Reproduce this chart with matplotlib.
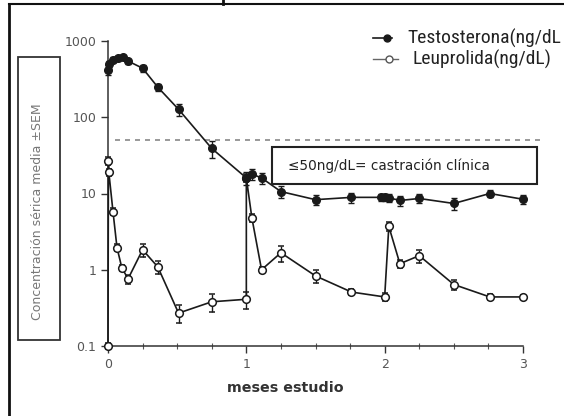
import numpy as np
import matplotlib
matplotlib.use('Agg')
import matplotlib.pyplot as plt
from matplotlib import font_manager
from matplotlib.patches import Rectangle
from matplotlib.lines import Line2D

W, H = 564, 416

# ── Data (months, ng/dL) ──
t_testo = [0, 0.005, 0.036, 0.07, 0.11, 0.145, 0.25, 0.36, 0.51, 0.75,
           1.0, 1.04, 1.11, 1.25, 1.5, 1.76, 1.97, 2.0, 2.03, 2.11, 2.25,
           2.5, 2.76, 3.0]
testo = [420, 500, 570, 590, 620, 545, 440, 248, 127, 39,
         16, 18, 16, 10.6, 8.3, 8.9, 8.9, 8.9, 8.8, 8.1, 8.6,
         7.4, 10.0, 8.4]
testo_sem = [60, 50, 40, 40, 40, 40, 45, 25, 22, 10,
             3, 3, 2.5, 1.8, 1.3, 1.3, 1.0, 1.0, 1.0, 1.3, 1.2,
             1.4, 1.0, 1.2]

t_leup = [0, 0.003, 0.006, 0.036, 0.065, 0.10, 0.145, 0.25, 0.36, 0.51,
          0.75, 1.0, 1.0, 1.04, 1.11, 1.25, 1.5, 1.76, 2.0, 2.03, 2.11,
          2.25, 2.5, 2.76, 3.0]
leup = [0.1, 27, 19, 5.8, 1.95, 1.06, 0.76, 1.83, 1.09, 0.27,
        0.38, 0.41, 16, 4.8, 1.0, 1.67, 0.83, 0.51, 0.44, 3.7, 1.2,
        1.53, 0.64, 0.44, 0.44]
leup_sem = [0.01, 3, 2, 0.6, 0.2, 0.1, 0.1, 0.35, 0.2, 0.07,
            0.1, 0.1, 2, 0.6, 0.1, 0.4, 0.15, 0.05, 0.05, 0.5, 0.15,
            0.3, 0.1, 0.04, 0.03]

THRESHOLD = 50
y_ticks = [0.1, 1, 10, 100, 1000]
y_ticklabels = ["0.1", "1", "10", "100", "1000"]
x_ticks = [0, 1, 2, 3]

# narrow font for the legend if one is installed
installed = {f.name for f in font_manager.fontManager.ttflist}
narrow = next((f for f in ["Liberation Sans Narrow", "DejaVu Sans Condensed",
                           "Roboto Condensed"] if f in installed), None)


def fx(px):
    return px / W


def fy(py):
    return 1 - py / H


fig = plt.figure(figsize=(W / 100, H / 100), dpi=100)
ax = fig.add_axes([fx(108), fy(346), fx(523) - fx(108), fy(41) - fy(346)])

ax.errorbar(t_testo, testo, yerr=testo_sem, fmt='o-', color='#1a1a1a',
            mfc='#1a1a1a', mec='#1a1a1a', ms=5.5, lw=1.2, elinewidth=1,
            capsize=2.5, clip_on=False, zorder=4)
ax.errorbar(t_leup, leup, yerr=leup_sem, fmt='o-', color='#1a1a1a',
            mfc='white', mec='#1a1a1a', ms=5.5, mew=1.1, lw=1.2,
            elinewidth=1, capsize=2.5, clip_on=False, zorder=3)

ax.hlines(THRESHOLD, 0.017, 1.04, transform=ax.get_yaxis_transform(),
          colors='#888888', linestyles=(0, (3, 3)), lw=1.2, clip_on=False)

ax.set_yscale('log')
ax.set_ylim(0.1, 1000)
ax.set_xlim(0, 3)
ax.set_yticks(y_ticks)
ax.set_yticklabels(y_ticklabels)
ax.yaxis.set_minor_locator(matplotlib.ticker.NullLocator())
ax.set_xticks(x_ticks)
ax.set_xticks(np.arange(0, 3.01, 0.25), minor=True)
ax.tick_params(axis='both', which='major', colors='#333333', labelcolor='#555555',
               labelsize=9, length=5, width=1)
ax.tick_params(axis='x', which='minor', direction='inout', length=4, width=0.8,
               colors='#555555')
for s in ['top', 'right']:
    ax.spines[s].set_visible(False)
for s in ['left', 'bottom']:
    ax.spines[s].set_color('#333333')
    ax.spines[s].set_linewidth(1.1)

fig.text(fx(285), fy(388), "meses estudio", ha='center', va='center',
         fontsize=10.3, fontweight='bold', color='#333333')

# y label in its own box
fig.patches.append(Rectangle((fx(18), fy(340)), fx(60) - fx(18), fy(57) - fy(340),
                             transform=fig.transFigure, fill=False,
                             edgecolor='#333333', lw=1.3))
fig.text(fx(38), fy(212), "Concentración sérica media ±SEM", rotation=90,
         ha='center', va='center', fontsize=9, color='#777777')

# threshold note
fig.patches.append(Rectangle((fx(272), fy(184)), fx(537) - fx(272), fy(147) - fy(184),
                             transform=fig.transFigure, facecolor='white',
                             edgecolor='#222222', lw=1.5, zorder=5))
fig.text(fx(288), fy(166), "≤50ng/dL= castración clínica", ha='left',
         va='center', fontsize=9.8, color='#222222', zorder=6)

# legend
leg_kw = dict(ha='left', va='center', color='#222222')
if narrow:
    leg_kw.update(family=narrow, fontsize=14)
else:
    leg_kw.update(fontsize=11.5)
fig.lines.append(Line2D([fx(373), fx(392)], [fy(38), fy(38)], color='#1a1a1a',
                        lw=1.2, transform=fig.transFigure))
fig.lines.append(Line2D([fx(387)], [fy(38)], color='#1a1a1a', marker='o', ms=5,
                        transform=fig.transFigure))
fig.text(fx(407), fy(38), "Testosterona(ng/dL", **leg_kw)
fig.lines.append(Line2D([fx(373), fx(398)], [fy(59), fy(59)], color='#666666',
                        lw=1.0, transform=fig.transFigure))
fig.lines.append(Line2D([fx(389)], [fy(59)], color='#555555', marker='o',
                        mfc='white', ms=5, transform=fig.transFigure))
fig.text(fx(412), fy(59), "Leuprolida(ng/dL)", **leg_kw)

# outer frame remnants
fig.lines.append(Line2D([fx(9), fx(564)], [fy(4), fy(4)], color='#111111', lw=1.5,
                        transform=fig.transFigure))
fig.lines.append(Line2D([fx(9), fx(9)], [fy(4), fy(416)], color='#111111', lw=2,
                        transform=fig.transFigure))
fig.lines.append(Line2D([fx(223), fx(223)], [fy(0), fy(4)], color='#111111', lw=2,
                        transform=fig.transFigure))

fig.savefig("out.png", dpi=100)
plt.close(fig)
